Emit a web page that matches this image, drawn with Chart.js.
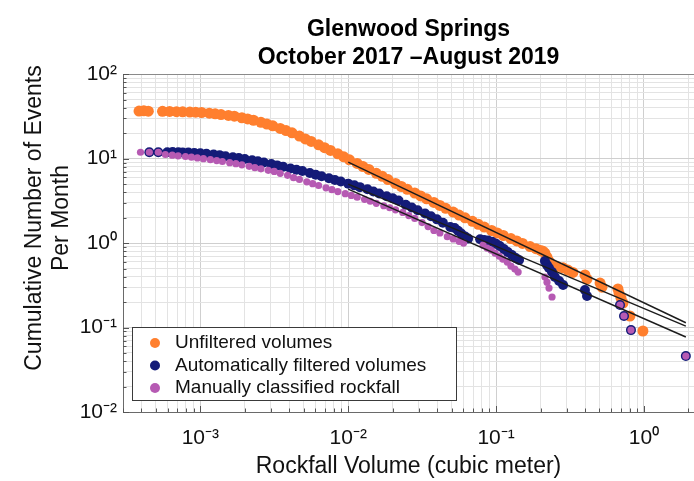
<!DOCTYPE html>
<html>
<head>
<meta charset="utf-8">
<script src="https://cdn.jsdelivr.net/npm/chart.js@4/dist/chart.umd.min.js"></script>
<style>
html, body { margin: 0; padding: 0; background: #fff; }
</style>
</head>
<body>
<canvas id="graficoRockfall" width="694" height="481"></canvas>
<script>
// volumes (m3) and cumulative events per month
var unfilteredVol = [3.85e-4, 4.15e-4, 4.45e-4, 5.55e-4, 6.2e-4, 6.9e-4, 7.6e-4, 8.5e-4, 9.3e-4, 1.02e-3,
	1.15e-3, 1.26e-3, 1.38e-3, 1.55e-3, 1.70e-3, 1.91e-3, 2.09e-3, 2.29e-3, 2.57e-3, 2.82e-3,
	3.09e-3, 3.47e-3, 3.80e-3, 4.17e-3, 4.68e-3, 5.13e-3, 5.62e-3, 6.31e-3, 6.92e-3, 7.59e-3,
	8.51e-3, 9.33e-3, 0.0102, 0.0115, 0.0126, 0.0138, 0.0155, 0.0170, 0.0186, 0.0209,
	0.0229, 0.0251, 0.0282, 0.0309, 0.0339, 0.0380, 0.0417, 0.0457, 0.0513, 0.0562,
	0.0617, 0.0692, 0.0759, 0.0832, 0.0933, 0.102, 0.112, 0.126, 0.138, 0.151,
	0.170, 0.186, 0.200, 0.208, 0.214, 0.221, 0.228, 0.235, 0.258, 0.284,
	0.306, 0.331, 0.399, 0.412, 0.505, 0.520, 0.667, 0.678, 0.700, 0.722, 0.804, 0.984];
var unfilteredRate = [36.6, 36.8, 36.5, 36.4, 36.2, 36.0, 35.8, 35.6, 35.5, 35.2,
	34.5, 33.9, 33.3, 32.5, 31.8, 30.5, 29.5, 28.5, 26.9, 25.7,
	24.5, 22.8, 21.5, 20.2, 18.5, 17.1, 16.0, 14.6, 13.5, 12.5,
	11.4, 10.5, 9.68, 8.77, 8.07, 7.46, 6.71, 6.17, 5.66, 5.09,
	4.68, 4.33, 3.92, 3.62, 3.34, 3.03, 2.79, 2.58, 2.33, 2.15,
	1.99, 1.81, 1.67, 1.55, 1.41, 1.32, 1.23, 1.13, 1.06, 0.99,
	0.91, 0.86, 0.82, 0.80, 0.76, 0.68, 0.61, 0.56, 0.53, 0.51,
	0.48, 0.45, 0.42, 0.375, 0.336, 0.301, 0.286, 0.256, 0.223, 0.195, 0.137, 0.091];

var autoVol = [4.52e-4, 5.2e-4, 5.98e-4, 6.5e-4, 7.1e-4, 7.6e-4, 8.3e-4, 9.1e-4, 1.0e-3, 1.1e-3,
	1.23e-3, 1.35e-3, 1.48e-3, 1.66e-3, 1.82e-3, 2.0e-3, 2.24e-3, 2.45e-3, 2.69e-3, 3.02e-3,
	3.31e-3, 3.63e-3, 4.07e-3, 4.47e-3, 4.90e-3, 5.50e-3, 6.03e-3, 6.61e-3, 7.41e-3, 8.13e-3,
	8.91e-3, 0.0100, 0.0110, 0.0120, 0.0135, 0.0148, 0.0162, 0.0182, 0.0200, 0.0219,
	0.0245, 0.0269, 0.0295, 0.0331, 0.0363, 0.0398, 0.0437, 0.0490, 0.0525,
	0.0553, 0.0581, 0.0618, 0.0647,
	0.078, 0.083, 0.0883, 0.094, 0.100, 0.106, 0.113, 0.120, 0.128, 0.136, 0.143,
	0.214, 0.221, 0.228, 0.239, 0.250, 0.267, 0.284, 0.399, 0.412,
	0.689, 0.733, 0.817, 1.92];
var autoRate = [11.9, 11.9, 11.9, 11.95, 11.9, 11.8, 11.8, 11.7, 11.6, 11.4,
	11.2, 11.0, 10.7, 10.4, 10.2, 9.91, 9.55, 9.29, 9.02, 8.63,
	8.32, 8.02, 7.66, 7.38, 7.13, 6.75, 6.46, 6.18, 5.85, 5.60,
	5.36, 5.06, 4.83, 4.60, 4.34, 4.09, 3.86, 3.59, 3.39, 3.19,
	2.84, 2.64, 2.45, 2.24, 2.08, 1.91, 1.74, 1.55, 1.51,
	1.40, 1.30, 1.20, 1.13,
	1.11, 1.09, 1.07, 1.04, 0.98, 0.921, 0.849, 0.782, 0.721, 0.664, 0.630,
	0.612, 0.549, 0.506, 0.454, 0.396, 0.355, 0.319, 0.278, 0.236,
	0.185, 0.137, 0.0933, 0.046];

var manualVol = [3.94e-4, 4.52e-4, 5.2e-4, 5.8e-4, 6.46e-4, 7.08e-4, 7.94e-4, 8.71e-4, 9.55e-4, 1.05e-3,
	1.17e-3, 1.29e-3, 1.41e-3, 1.58e-3, 1.74e-3, 1.91e-3, 2.14e-3, 2.34e-3, 2.57e-3, 2.88e-3,
	3.16e-3, 3.47e-3, 3.89e-3, 4.27e-3, 4.68e-3, 5.25e-3, 5.75e-3, 6.31e-3, 7.08e-3, 7.76e-3,
	8.51e-3, 9.55e-3, 0.0105, 0.0115, 0.0129, 0.0141, 0.0155, 0.0174, 0.0191, 0.0209,
	0.0234, 0.0257, 0.0282, 0.0316, 0.0347, 0.0380, 0.0417, 0.0468, 0.0513, 0.0562, 0.0603,
	0.0817, 0.0869, 0.0925, 0.0984, 0.105, 0.111, 0.119, 0.126, 0.134, 0.141,
	0.214, 0.221, 0.228, 0.239,
	0.689, 0.733, 0.817, 1.92];
var manualRate = [11.9, 11.9, 11.9, 11.2, 11.0, 10.8, 10.6, 10.4, 10.2, 10.0,
	9.73, 9.48, 9.25, 8.97, 8.73, 8.45, 8.11, 7.82, 7.57, 7.28,
	7.05, 6.71, 6.34, 5.96, 5.68, 5.32, 5.06, 4.81, 4.51, 4.29,
	4.08, 3.85, 3.67, 3.50, 3.30, 3.13, 2.96, 2.77, 2.62, 2.48,
	2.31, 2.12, 1.96, 1.75, 1.57, 1.41, 1.32, 1.19, 1.12, 1.05, 1.00,
	0.946, 0.873, 0.826, 0.762, 0.702, 0.647, 0.596, 0.534, 0.492, 0.454,
	0.396, 0.345, 0.293, 0.230,
	0.185, 0.137, 0.0933, 0.046];

// power-law fits, drawn from 0.01 m3 to the largest event
var fitVol = [0.01, 1.92];
var fitUnfiltered = [9.09, 0.114];
var fitAuto = [4.99, 0.104];
var fitManual = [4.35, 0.0773];

var titulo = ['Glenwood Springs', 'October 2017 \u2013August 2019'];
var rotuloX = 'Rockfall Volume (cubic meter)';
var rotuloY = ['Cumulative Number of Events', 'Per Month'];

var SUP = {'-': '\u207B', '0': '\u2070', '1': '\u00B9', '2': '\u00B2', '3': '\u00B3'};

function pares(xs, ys) {
	return xs.map(function(x, i) { return {x: x, y: ys[i]}; });
}

function ehDecada(v) {
	var e = Math.round(Math.log10(v));
	return Math.abs(v / Math.pow(10, e) - 1) < 1e-6;
}

function ehInteiro(v) {
	var e = Math.floor(Math.log10(v) + 1e-9);
	var m = v / Math.pow(10, e);
	return Math.abs(m - Math.round(m)) < 1e-6;
}

function rotuloDecada(v) {
	if (ehDecada(v)) {
		var e = Math.round(Math.log10(v));
		return '10' + String(e).split('').map(function(c) { return SUP[c]; }).join('');
	}
	if (!ehInteiro(v)) return null; // hides 1.5 ticks and the min/max ends
	return '';
}

function corGrade(ctx) {
	var v = ctx.tick && ctx.tick.value;
	if (!v) return '#e3e3e3';
	if (v === 100) return '#8a8a8a';
	return ehDecada(v) ? '#cfcfcf' : '#e3e3e3';
}

// boxed legend inside the axes, inward tick marks and the two-line y label
var extras = {
	id: 'extras',
	afterDraw: function(chart) {
		var ctx = chart.ctx, area = chart.chartArea;
		ctx.save();

		ctx.strokeStyle = '#555';
		ctx.lineWidth = 1;
		ctx.beginPath();
		chart.scales.x.ticks.forEach(function(t) {
			if (!ehInteiro(t.value)) return;
			var px = Math.round(chart.scales.x.getPixelForValue(t.value)) + 0.5;
			var len = ehDecada(t.value) ? 6 : 3.5;
			ctx.moveTo(px, area.bottom);
			ctx.lineTo(px, area.bottom - len);
		});
		chart.scales.y.ticks.forEach(function(t) {
			if (!ehInteiro(t.value)) return;
			var py = Math.round(chart.scales.y.getPixelForValue(t.value)) + 0.5;
			var len = ehDecada(t.value) ? 6 : 3.5;
			ctx.moveTo(area.left, py);
			ctx.lineTo(area.left + len, py);
		});
		ctx.stroke();

		var x = area.left + 9, y = area.bottom - 85, w = 324, h = 73;
		ctx.fillStyle = '#fff';
		ctx.fillRect(x, y, w, h);
		ctx.strokeStyle = '#3a3a3a';
		ctx.strokeRect(x + 0.5, y + 0.5, w, h);
		ctx.font = '19px "Liberation Sans", Arial, sans-serif';
		ctx.textBaseline = 'middle';
		ctx.textAlign = 'left';
		var linha = 0;
		chart.data.datasets.forEach(function(ds) {
			if (!ds.naLegenda) return;
			var cy = y + 16 + linha * 22.5;
			ctx.fillStyle = ds.backgroundColor;
			ctx.beginPath();
			ctx.arc(x + 23, cy, 5, 0, Math.PI * 2);
			ctx.fill();
			ctx.fillStyle = '#111';
			ctx.fillText(ds.label, x + 43, cy);
			linha++;
		});

		ctx.translate(35, 218);
		ctx.rotate(-Math.PI / 2);
		ctx.font = '23px "Liberation Sans", Arial, sans-serif';
		ctx.textAlign = 'center';
		ctx.fillStyle = '#111';
		rotuloY.forEach(function(txt, i) {
			ctx.fillText(txt, 0, i * 27);
		});
		ctx.restore();
	}
};

Chart.defaults.font.family = '"Liberation Sans", Arial, Helvetica, sans-serif';
Chart.defaults.color = '#111';

function linhaAjuste(ys) {
	return {
		data: pares(fitVol, ys),
		showLine: true,
		borderColor: '#1c1c1c',
		borderWidth: 1.4,
		pointRadius: 0,
		order: -1
	};
}

var ctx = document.getElementById('graficoRockfall').getContext('2d');
var grafico = new Chart(ctx, {
	type: 'scatter',
	data: {
		datasets: [{
			label: 'Unfiltered volumes',
			naLegenda: true,
			data: pares(unfilteredVol, unfilteredRate),
			backgroundColor: '#ff7f2e',
			borderWidth: 0,
			pointRadius: 5.5,
			order: 2
		}, {
			label: 'Automatically filtered volumes',
			naLegenda: true,
			data: pares(autoVol, autoRate),
			backgroundColor: '#141b78',
			borderWidth: 0,
			pointRadius: 5,
			order: 1
		}, {
			label: 'Manually classified rockfall',
			naLegenda: true,
			data: pares(manualVol, manualRate),
			backgroundColor: '#b65ab3',
			borderWidth: 0,
			pointRadius: 3.6,
			order: 0
		},
		linhaAjuste(fitUnfiltered),
		linhaAjuste(fitAuto),
		linhaAjuste(fitManual)]
	},
	options: {
		responsive: false,
		animation: false,
		events: [],
		layout: { padding: 0, autoPadding: false },
		plugins: {
			legend: { display: false },
			tooltip: { enabled: false },
			title: {
				display: true,
				text: titulo,
				fullSize: false,
				color: '#000',
				font: { size: 23, weight: 'bold' },
				padding: { top: 16, bottom: 3 }
			}
		},
		scales: {
			x: {
				type: 'logarithmic',
				min: 3.02e-4,
				max: 2.18,
				border: { color: '#6a6a6a' },
				grid: { color: corGrade, drawTicks: false },
				ticks: {
					autoSkip: false,
					maxRotation: 0,
					padding: 14,
					font: { size: 21 },
					callback: function(v) { return rotuloDecada(v); }
				},
				title: {
					display: true,
					text: rotuloX,
					font: { size: 23 },
					padding: { top: 0, bottom: 1 }
				},
				afterFit: function(s) {
					s.height = 69;
					s.paddingLeft = 0;
					s.paddingRight = 0;
				}
			},
			y: {
				type: 'logarithmic',
				min: 0.01,
				max: 100,
				border: { color: '#6a6a6a' },
				grid: { color: corGrade, drawTicks: false },
				ticks: {
					autoSkip: false,
					padding: 6,
					font: { size: 21 },
					callback: function(v) { return rotuloDecada(v); }
				},
				afterFit: function(s) { s.width = 123; }
			}
		}
	},
	plugins: [extras]
});
</script>
</body>
</html>
